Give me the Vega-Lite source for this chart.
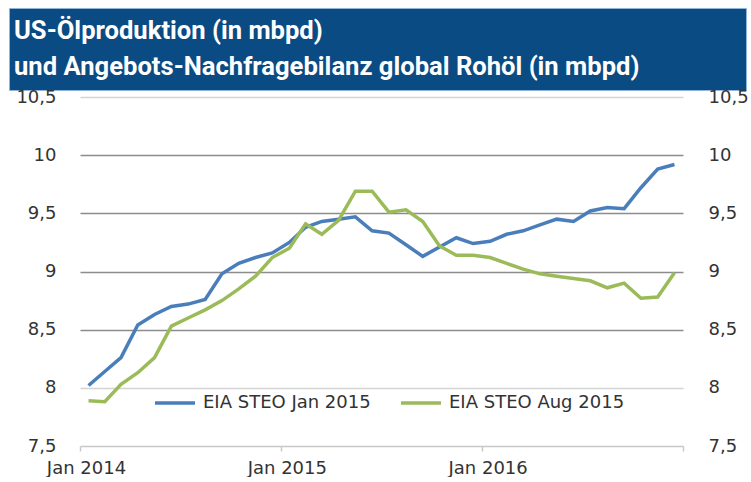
{
  "$schema": "https://vega.github.io/schema/vega-lite/v6.json",
  "padding": {"left": 8, "top": 7, "right": 5, "bottom": 0},
  "background": "white",
  "spacing": -3,
  "config": {"view": {"stroke": null}, "font": "DejaVu Sans"},
  "vconcat": [
    {
      "width": 737,
      "height": 82,
      "view": {"fill": "#0a4b83", "stroke": "#8fb4dc", "strokeWidth": 1},
      "data": {"values": [
        {"line": 1, "text": "US-Ölproduktion (in mbpd)"},
        {"line": 2, "text": "und Angebots-Nachfragebilanz global Rohöl (in mbpd)"}
      ]},
      "mark": {"type": "text", "align": "left", "baseline": "alphabetic", "dx": 5, "color": "white", "font": "Roboto", "fontWeight": "bold", "fontSize": 25.6},
      "encoding": {
        "x": {"datum": 0, "type": "quantitative", "scale": {"domain": [0, 1]}, "axis": null},
        "y": {"field": "line", "type": "quantitative", "scale": {"domain": [0.14, 2.42], "reverse": true, "nice": false, "zero": false}, "axis": null},
        "text": {"field": "text"}
      }
    },
    {
      "spacing": -1,
      "hconcat": [
        {
          "width": 1,
          "height": 1,
          "data": {"values": []},
          "mark": "point",
          "encoding": {}
        },
        {
          "width": 603,
          "height": 349,
          "data": {"values": [
            {"m": "2014-01", "s": "EIA STEO Jan 2015", "v": 8.02},
            {"m": "2014-02", "s": "EIA STEO Jan 2015", "v": 8.14},
            {"m": "2014-03", "s": "EIA STEO Jan 2015", "v": 8.26},
            {"m": "2014-04", "s": "EIA STEO Jan 2015", "v": 8.54},
            {"m": "2014-05", "s": "EIA STEO Jan 2015", "v": 8.63},
            {"m": "2014-06", "s": "EIA STEO Jan 2015", "v": 8.70},
            {"m": "2014-07", "s": "EIA STEO Jan 2015", "v": 8.72},
            {"m": "2014-08", "s": "EIA STEO Jan 2015", "v": 8.76},
            {"m": "2014-09", "s": "EIA STEO Jan 2015", "v": 8.98},
            {"m": "2014-10", "s": "EIA STEO Jan 2015", "v": 9.07},
            {"m": "2014-11", "s": "EIA STEO Jan 2015", "v": 9.12},
            {"m": "2014-12", "s": "EIA STEO Jan 2015", "v": 9.16},
            {"m": "2015-01", "s": "EIA STEO Jan 2015", "v": 9.25},
            {"m": "2015-02", "s": "EIA STEO Jan 2015", "v": 9.38},
            {"m": "2015-03", "s": "EIA STEO Jan 2015", "v": 9.43},
            {"m": "2015-04", "s": "EIA STEO Jan 2015", "v": 9.45},
            {"m": "2015-05", "s": "EIA STEO Jan 2015", "v": 9.47},
            {"m": "2015-06", "s": "EIA STEO Jan 2015", "v": 9.35},
            {"m": "2015-07", "s": "EIA STEO Jan 2015", "v": 9.33},
            {"m": "2015-08", "s": "EIA STEO Jan 2015", "v": 9.23},
            {"m": "2015-09", "s": "EIA STEO Jan 2015", "v": 9.13},
            {"m": "2015-10", "s": "EIA STEO Jan 2015", "v": 9.21},
            {"m": "2015-11", "s": "EIA STEO Jan 2015", "v": 9.29},
            {"m": "2015-12", "s": "EIA STEO Jan 2015", "v": 9.24},
            {"m": "2016-01", "s": "EIA STEO Jan 2015", "v": 9.26},
            {"m": "2016-02", "s": "EIA STEO Jan 2015", "v": 9.32},
            {"m": "2016-03", "s": "EIA STEO Jan 2015", "v": 9.35},
            {"m": "2016-04", "s": "EIA STEO Jan 2015", "v": 9.40},
            {"m": "2016-05", "s": "EIA STEO Jan 2015", "v": 9.45},
            {"m": "2016-06", "s": "EIA STEO Jan 2015", "v": 9.43},
            {"m": "2016-07", "s": "EIA STEO Jan 2015", "v": 9.52},
            {"m": "2016-08", "s": "EIA STEO Jan 2015", "v": 9.55},
            {"m": "2016-09", "s": "EIA STEO Jan 2015", "v": 9.54},
            {"m": "2016-10", "s": "EIA STEO Jan 2015", "v": 9.72},
            {"m": "2016-11", "s": "EIA STEO Jan 2015", "v": 9.88},
            {"m": "2016-12", "s": "EIA STEO Jan 2015", "v": 9.92},
            {"m": "2014-01", "s": "EIA STEO Aug 2015", "v": 7.89},
            {"m": "2014-02", "s": "EIA STEO Aug 2015", "v": 7.88},
            {"m": "2014-03", "s": "EIA STEO Aug 2015", "v": 8.03},
            {"m": "2014-04", "s": "EIA STEO Aug 2015", "v": 8.13},
            {"m": "2014-05", "s": "EIA STEO Aug 2015", "v": 8.26},
            {"m": "2014-06", "s": "EIA STEO Aug 2015", "v": 8.53},
            {"m": "2014-07", "s": "EIA STEO Aug 2015", "v": 8.60},
            {"m": "2014-08", "s": "EIA STEO Aug 2015", "v": 8.67},
            {"m": "2014-09", "s": "EIA STEO Aug 2015", "v": 8.75},
            {"m": "2014-10", "s": "EIA STEO Aug 2015", "v": 8.85},
            {"m": "2014-11", "s": "EIA STEO Aug 2015", "v": 8.96},
            {"m": "2014-12", "s": "EIA STEO Aug 2015", "v": 9.12},
            {"m": "2015-01", "s": "EIA STEO Aug 2015", "v": 9.20},
            {"m": "2015-02", "s": "EIA STEO Aug 2015", "v": 9.41},
            {"m": "2015-03", "s": "EIA STEO Aug 2015", "v": 9.32},
            {"m": "2015-04", "s": "EIA STEO Aug 2015", "v": 9.44},
            {"m": "2015-05", "s": "EIA STEO Aug 2015", "v": 9.69},
            {"m": "2015-06", "s": "EIA STEO Aug 2015", "v": 9.69},
            {"m": "2015-07", "s": "EIA STEO Aug 2015", "v": 9.51},
            {"m": "2015-08", "s": "EIA STEO Aug 2015", "v": 9.53},
            {"m": "2015-09", "s": "EIA STEO Aug 2015", "v": 9.43},
            {"m": "2015-10", "s": "EIA STEO Aug 2015", "v": 9.22},
            {"m": "2015-11", "s": "EIA STEO Aug 2015", "v": 9.14},
            {"m": "2015-12", "s": "EIA STEO Aug 2015", "v": 9.14},
            {"m": "2016-01", "s": "EIA STEO Aug 2015", "v": 9.12},
            {"m": "2016-02", "s": "EIA STEO Aug 2015", "v": 9.07},
            {"m": "2016-03", "s": "EIA STEO Aug 2015", "v": 9.02},
            {"m": "2016-04", "s": "EIA STEO Aug 2015", "v": 8.98},
            {"m": "2016-05", "s": "EIA STEO Aug 2015", "v": 8.96},
            {"m": "2016-06", "s": "EIA STEO Aug 2015", "v": 8.94},
            {"m": "2016-07", "s": "EIA STEO Aug 2015", "v": 8.92},
            {"m": "2016-08", "s": "EIA STEO Aug 2015", "v": 8.86},
            {"m": "2016-09", "s": "EIA STEO Aug 2015", "v": 8.90},
            {"m": "2016-10", "s": "EIA STEO Aug 2015", "v": 8.77},
            {"m": "2016-11", "s": "EIA STEO Aug 2015", "v": 8.78},
            {"m": "2016-12", "s": "EIA STEO Aug 2015", "v": 8.99}
          ]},
          "encoding": {
            "x": {
              "field": "m", "timeUnit": "yearmonth", "type": "temporal", "bandPosition": 0.5,
              "scale": {"domain": [{"year": 2014, "month": 1, "date": 1}, {"year": 2017, "month": 1, "date": 1}]},
              "axis": {
                "title": null,
                "values": [{"year": 2014, "month": 1, "date": 1}, {"year": 2015, "month": 1, "date": 1}, {"year": 2016, "month": 1, "date": 1}, {"year": 2017, "month": 1, "date": 1}],
                "labelExpr": "year(datum.value) < 2017 ? timeFormat(datum.value, '%b %Y') : ''",
                "labelOffset": 6, "labelFontSize": 18, "labelColor": "#333333", "labelPadding": 8,
                "labelFlush": false, "labelOverlap": false,
                "domainColor": "#c8c8c8", "domainWidth": 1.5, "tickColor": "#c8c8c8", "tickSize": 5, "tickWidth": 1.5,
                "grid": false
              }
            },
            "color": {
              "field": "s", "type": "nominal",
              "scale": {"domain": ["EIA STEO Jan 2015", "EIA STEO Aug 2015"], "range": ["#4a7ebb", "#9bbb59"]},
              "legend": {
                "title": null, "orient": "none", "legendX": 144, "legendY": 373, "direction": "horizontal",
                "symbolType": "stroke", "symbolSize": 1600, "symbolStrokeWidth": 3.5,
                "labelFontSize": 18, "labelColor": "#333333", "labelLimit": 300, "columnPadding": 23, "labelOffset": 6, "padding": 0
              }
            }
          },
          "layer": [
            {
              "transform": [{"filter": "datum.s == 'EIA STEO Jan 2015'"}],
              "mark": {"type": "line", "strokeWidth": 3.5},
              "encoding": {
                "y": {
                  "field": "v", "type": "quantitative",
                  "scale": {"domain": [7.5, 10.5], "nice": false, "zero": false},
                  "axis": {
                    "title": null, "orient": "left",
                    "values": [7.5, 8, 8.5, 9, 9.5, 10, 10.5],
                    "labelExpr": "replace(format(datum.value, '.1~f'), '.', ',')",
                    "labelFontSize": 18, "labelColor": "#333333", "labelPadding": 24,
                    "domain": false, "ticks": false, "tickSize": 0,
                    "minExtent": 71, "maxExtent": 71,
                    "grid": true, "gridWidth": 1.5,
                    "gridColor": {"condition": {"test": "datum.value == 8 || datum.value == 10.5", "value": "#d4d4d4"}, "value": "#8c8c8c"},
                    "gridOpacity": {"condition": {"test": "datum.value == 7.5", "value": 0}, "value": 1}
                  }
                }
              }
            },
            {
              "transform": [{"filter": "datum.s == 'EIA STEO Aug 2015'"}],
              "mark": {"type": "line", "strokeWidth": 3.5},
              "encoding": {
                "y": {
                  "field": "v", "type": "quantitative",
                  "scale": {"domain": [7.5, 10.5], "nice": false, "zero": false},
                  "axis": {
                    "title": null, "orient": "right",
                    "values": [7.5, 8, 8.5, 9, 9.5, 10, 10.5],
                    "labelExpr": "replace(format(datum.value, '.1~f'), '.', ',')",
                    "labelFontSize": 18, "labelColor": "#333333", "labelPadding": 25,
                    "domain": false, "ticks": false, "tickSize": 0, "grid": false
                  }
                }
              }
            }
          ],
          "resolve": {"scale": {"y": "independent"}}
        }
      ]
    }
  ]
}
